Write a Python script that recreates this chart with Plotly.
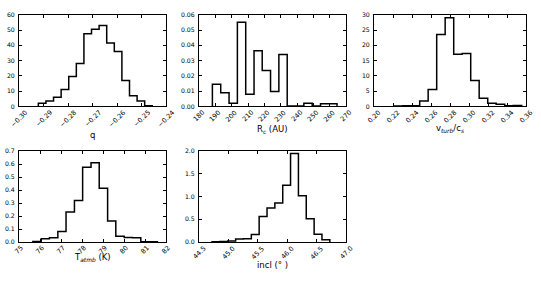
import plotly.graph_objects as go

# ---------------- data ----------------
q_edges = [-0.2921, -0.2890, -0.2859, -0.2828, -0.2797, -0.2766, -0.2735, -0.2704,
           -0.2673, -0.2642, -0.2611, -0.2580, -0.2549, -0.2518, -0.2487, -0.2456]
q_counts = [2, 3.5, 6, 11, 19.5, 28, 47.5, 50.5, 53, 41.5, 36, 17, 7, 3.5, 0.5]

rc_edges = [188.2, 193.3, 198.4, 203.5, 208.6, 213.7, 218.7, 223.8, 228.9, 234.0,
            239.1, 244.2, 249.3, 254.4, 259.5, 264.5]
rc_counts = [0.0145, 0.009, 0.002, 0.055, 0.008, 0.0365, 0.0235, 0.0097, 0.034,
             0.0002, 0.0002, 0.002, 0.0002, 0.0017, 0.0017]

vt_edges = [0.2212, 0.2302, 0.2391, 0.2481, 0.2570, 0.2660, 0.2749, 0.2839, 0.2928,
            0.3018, 0.3107, 0.3197, 0.3286, 0.3376, 0.3465, 0.3555]
vt_counts = [0.1, 0.2, 0.2, 1.8, 5.5, 23.5, 29, 17.1, 17.3, 8.5, 2.7, 1.0, 0.7, 0.2, 0.3]

ta_edges = [75.66, 76.06, 76.45, 76.85, 77.24, 77.64, 78.03, 78.43, 78.82, 79.22,
            79.61, 80.01, 80.40, 80.80, 81.19, 81.59]
ta_counts = [0.003, 0.025, 0.032, 0.08, 0.232, 0.32, 0.577, 0.612, 0.415, 0.161,
             0.045, 0.035, 0.033, 0.002, 0.002]

in_edges = [44.722, 44.856, 44.989, 45.123, 45.256, 45.390, 45.523, 45.657, 45.790,
            45.924, 46.057, 46.191, 46.324, 46.458, 46.591, 46.725]
in_counts = [0.003, 0.012, 0.02, 0.065, 0.07, 0.165, 0.56, 0.75, 0.86, 1.25, 1.95,
             1.02, 0.51, 0.17, 0.05]

q_ticks = [-0.30, -0.29, -0.28, -0.27, -0.26, -0.25, -0.24]
q_ticklabels = ["\u22120.30", "\u22120.29", "\u22120.28", "\u22120.27", "\u22120.26", "\u22120.25", "\u22120.24"]
rc_ticks = [180, 190, 200, 210, 220, 230, 240, 250, 260, 270]
rc_ticklabels = [str(v) for v in rc_ticks]
vt_ticks = [0.20, 0.22, 0.24, 0.26, 0.28, 0.30, 0.32, 0.34, 0.36]
vt_ticklabels = ["0.20", "0.22", "0.24", "0.26", "0.28", "0.30", "0.32", "0.34", "0.36"]
ta_ticks = [75, 76, 77, 78, 79, 80, 81, 82]
ta_ticklabels = [str(v) for v in ta_ticks]
in_ticks = [44.5, 45.0, 45.5, 46.0, 46.5, 47.0]
in_ticklabels = ["44.5", "45.0", "45.5", "46.0", "46.5", "47.0"]

W, H = 541, 283
FONT = "DejaVu Sans"
XTICK_SIZE = 6.6
YTICK_SIZE = 6.2
TITLE_SIZE = 8.5

panels = [
    # edges, counts, xrange, yrange, ydtick, yfmt, xticks, xticklabels, xtitle, box(px: x0,x1,y0,y1), title_y_px
    (q_edges, q_counts, [-0.30, -0.24], [0, 60], 10, "d", q_ticks, q_ticklabels, "q", (19, 166, 11, 105), 134.5),
    (rc_edges, rc_counts, [180, 270], [0, 0.06], 0.01, ".2f", rc_ticks, rc_ticklabels,
     "R<sub>c</sub> (AU)", (199, 346, 11, 105), 129),
    (vt_edges, vt_counts, [0.20, 0.36], [0, 30], 5, "d", vt_ticks, vt_ticklabels,
     "v<sub><i>turb</i></sub>/c<sub><i>s</i></sub>", (374, 526, 11, 105), 127.5),
    (ta_edges, ta_counts, [75, 82], [0, 0.7], 0.1, ".1f", ta_ticks, ta_ticklabels,
     "T<sub><i>atmb</i></sub> (K)", (19, 166, 151, 244), 260),
    (in_edges, in_counts, [44.5, 47.0], [0, 2.0], 0.5, ".1f", in_ticks, in_ticklabels,
     "incl (\u00b0 )", (199, 346, 151, 244), 267.5),
]

fig = go.Figure()
annotations = []
layout = dict(
    width=W, height=H, margin=dict(l=0, r=0, t=0, b=0),
    paper_bgcolor="white", plot_bgcolor="white", showlegend=False,
    font=dict(family=FONT, size=7, color="black"),
)

for i, (edges, counts, xr, yr, ydt, yfmt, xt, xtl, xtitle, box, ty) in enumerate(panels):
    n = "" if i == 0 else str(i + 1)
    xs = [edges[0]] + list(edges)
    ys = [0] + list(counts) + [0]
    fig.add_trace(go.Scatter(
        x=xs, y=ys, mode="lines", line=dict(color="black", width=1.5, shape="hv"),
        xaxis="x" + n, yaxis="y" + n, hoverinfo="skip"))
    x0, x1, y0, y1 = box
    xd = [x0 / W, x1 / W]
    yd = [1 - y1 / H, 1 - y0 / H]
    common = dict(showline=True, linecolor="black", linewidth=1, mirror="allticks",
                  ticks="inside", ticklen=3, tickcolor="black", tickwidth=1,
                  showgrid=False, zeroline=False, fixedrange=True)
    layout["xaxis" + n] = dict(domain=xd, range=xr, anchor="y" + n, tickvals=xt,
                               showticklabels=False, **common)
    layout["yaxis" + n] = dict(domain=yd, range=yr, anchor="x" + n, dtick=ydt, tick0=0,
                               tickformat=yfmt, tickfont=dict(size=YTICK_SIZE, family=FONT),
                               ticklabelstandoff=2, **common)
    for v, lab in zip(xt, xtl):
        annotations.append(dict(
            x=v, xref="x" + n, y=yd[0], yref="paper", text=lab, showarrow=False,
            textangle=-45, xanchor="center", yanchor="top", yshift=-1, borderpad=0,
            font=dict(size=XTICK_SIZE, family=FONT, color="black")))
    annotations.append(dict(
        x=(xd[0] + xd[1]) / 2, xref="paper", y=1 - ty / H, yref="paper", text=xtitle,
        showarrow=False, xanchor="center", yanchor="middle",
        font=dict(size=TITLE_SIZE, family=FONT, color="black")))

layout["annotations"] = annotations
fig.update_layout(**layout)
fig.write_html("out.html", config={"displayModeBar": False},
               post_script="document.body.style.margin='0';document.body.style.padding='0';")
